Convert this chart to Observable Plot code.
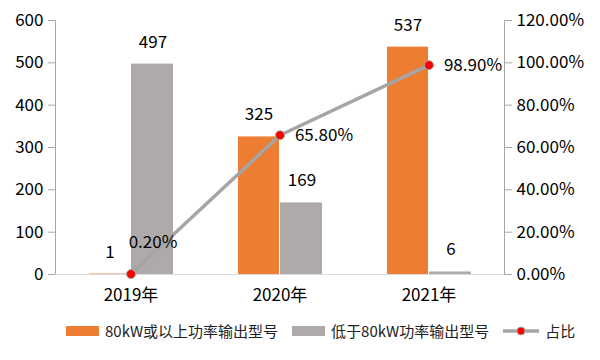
<!DOCTYPE html>
<html><head><meta charset="utf-8">
<script src="https://cdn.jsdelivr.net/npm/d3@7"></script>
<script src="https://cdn.jsdelivr.net/npm/@observablehq/plot@0.6"></script>
<style>
body{margin:0;background:#fff;font-family:"Noto Sans CJK SC","Noto Sans",sans-serif;}
#legend{display:flex;align-items:center;font-size:15px;color:#222;margin-left:66px;margin-top:10px;}
.sw{display:inline-block;width:33px;height:10px;margin-right:6px;}
.item{display:flex;align-items:center;margin-right:14px;}
</style></head><body>
<div id="chart"></div>
<div id="legend"></div>
<script>
const years = ["2019年","2020年","2021年"];
const high = [1, 325, 537];
const low = [497, 169, 6];
const share = [0.20, 65.80, 98.90];
const seriesNames = ["80kW或以上功率输出型号","低于80kW功率输出型号","占比"];
const colors = ["#ED7D31","#AEAAAA","#A5A5A5"];

const data = years.map((y,i)=>({year:y, high:high[i], low:low[i], share:share[i], pv: share[i] * 5}));
const k = 5; // right axis factor: 120% -> 600

const chart = Plot.plot({
  width: 600, height: 310,
  marginLeft: 55, marginRight: 96, marginTop: 20, marginBottom: 36,
  style: {fontFamily: '"Noto Sans CJK SC","Noto Sans",sans-serif', fontSize: "17px", color: "#000"},
  x: {domain: years, padding: 0, label: null},
  y: {domain: [0, 600], label: null},
  marks: [
    Plot.frame({anchor: "left", stroke: "#A6A6A6"}),
    Plot.frame({anchor: "right", stroke: "#A6A6A6"}),
    Plot.axisY({anchor: "left", ticks: [0,100,200,300,400,500,600], tickSize: 7, tickPadding: 5, stroke: "#A6A6A6", label: null, fill: "#000"}),
    Plot.axisY({anchor: "right", ticks: [0,100,200,300,400,500,600], tickSize: 7, tickPadding: 5, stroke: "#A6A6A6", label: null, fill: "#000", tickFormat: d => (d / k).toFixed(2) + "%"}),
    Plot.axisX({tickSize: 0, tickPadding: 14, label: null, fill: "#000"}),
    Plot.ruleY([0], {stroke: "#D9D9D9", strokeWidth: 1}),
    Plot.barY(data, {x: "year", y: "high", fill: colors[0], insetLeft: 33, insetRight: 75}),
    Plot.barY(data, {x: "year", y: "low", fill: colors[1], insetLeft: 75, insetRight: 32}),
    Plot.text(data, {x: "year", y: "high", text: d => String(d.high), dx: -21, dy: -22, fontSize: 17, fill: "#000"}),
    Plot.text(data, {x: "year", y: "low", text: d => String(d.low), dx: 22, dy: -22, fontSize: 17, fill: "#000"}),
    Plot.line(data, {x: "year", y: "pv", stroke: colors[2], strokeWidth: 3.5}),
    Plot.dot(data, {x: "year", y: "pv", r: 4.5, fill: "#FF0000", stroke: "#A5A5A5", strokeWidth: 1}),
    Plot.text(data.slice(0, 1), {x: "year", y: "pv", text: d => d.share.toFixed(2) + "%", dx: 22, dy: -32, fontSize: 17, fill: "#000"}),
    Plot.text(data.slice(1), {x: "year", y: "pv", text: d => d.share.toFixed(2) + "%", dx: 44, dy: 0, fontSize: 17, fill: "#000"})
  ]
});
document.getElementById("chart").appendChild(chart);

const lg = document.getElementById("legend");
seriesNames.forEach((n,i)=>{
  const it = document.createElement("span"); it.className = "item";
  if (i < 2) {
    it.innerHTML = `<span class="sw" style="background:${colors[i]}"></span>${n}`;
  } else {
    it.innerHTML = `<svg width="36" height="12" style="margin-right:6px"><line x1="0" x2="36" y1="6" y2="6" stroke="${colors[2]}" stroke-width="3.5"/><circle cx="18" cy="6" r="4" fill="#FF0000" stroke="#A5A5A5"/></svg>${n}`;
  }
  lg.appendChild(it);
});
</script>
</body></html>
